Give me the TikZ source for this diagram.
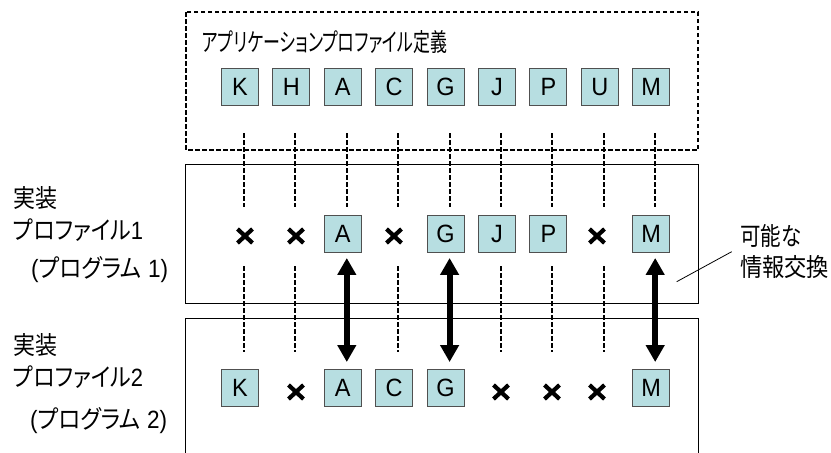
\documentclass[tikz,border=0pt]{standalone}
\usepackage{graphicx}
\usepackage{fontspec}
\setmainfont{Liberation Sans}
\newfontfamily\jp[RawFeature=+palt]{Noto Sans CJK JP}
\usetikzlibrary{arrows.meta}
\definecolor{boxfill}{RGB}{183,222,225}
\definecolor{boxline}{RGB}{80,80,80}
\newcommand{\fitw}[2]{\resizebox{#1}{\height}{#2}}
\newcommand{\narrow}[1]{\scalebox{0.94}[1]{#1}}
\tikzset{
  letter/.style={draw=boxline, fill=boxfill, line width=0.9pt, minimum width=37pt, minimum height=37pt, inner sep=0pt, font=\fontsize{25}{25}\selectfont},
  xmark/.style={minimum size=22pt, inner sep=0pt, path picture={
     \draw[line width=4.2pt] ([shift={(-7.5pt,-7pt)}]path picture bounding box.center) -- ([shift={(7.5pt,7pt)}]path picture bounding box.center);
     \draw[line width=4.2pt] ([shift={(-7.5pt,7pt)}]path picture bounding box.center) -- ([shift={(7.5pt,-7pt)}]path picture bounding box.center);}},
  guide/.style={line width=1.9pt, dash pattern=on 4.5pt off 2.5pt},
  frame/.style={line width=1pt},
  dframe/.style={line width=1.6pt, dash pattern=on 4.5pt off 2.5pt},
  lab/.style={anchor=west, inner sep=0pt, font=\fontsize{25}{25}\selectfont},
  xchg/.style={line width=6pt, {Triangle[width=18pt,length=17pt]}-{Triangle[width=18pt,length=17pt]}}
}
\begin{document}
\begin{tikzpicture}[x=1pt,y=-1pt]
\useasboundingbox (0,0) rectangle (831,453);
% frames
\draw[dframe] (186,12) rectangle (698,150);
\draw[frame] (185,164) rectangle (698,303);
\draw[frame] (185,453) -- (185,318) -- (698,318) -- (698,453);
% title
\node[lab] (title) at (202,42) {\fitw{245pt}{\jp アプリケーションプロファイル定義}};
% top row
\foreach \n [count=\i from 0] in {K,H,A,C,G,J,P,U,M} {
  \node[letter] (t\n) at (240+51.4*\i,87) {\narrow{\n}};
  \coordinate (ga\n) at (244+51.4*\i,133);
  \coordinate (gb\n) at (244+51.4*\i,207);
  \draw[guide] (ga\n) -- (gb\n);
}
\foreach \n/\i in {K/0,H/1,C/3,J/5,P/6,U/7} {
  \coordinate (gc\n) at (244+51.4*\i,266);
  \coordinate (gd\n) at (244+51.4*\i,352);
  \draw[guide] (gc\n) -- (gd\n);
}
% row 1
\node[xmark] (xa1) at (245,236) {};
\node[xmark] (xa2) at (296,236) {};
\node[letter] (aA) at (342.8,234) {\narrow{A}};
\node[xmark] (xa3) at (394,236) {};
\node[letter] (aG) at (445.6,234) {\narrow{G}};
\node[letter] (aJ) at (497,234) {\narrow{J}};
\node[letter] (aP) at (548.4,234) {\narrow{P}};
\node[xmark] (xa4) at (597,236) {};
\node[letter] (aM) at (651.2,234) {\narrow{M}};
% row 2
\node[letter] (bK) at (240,388) {\narrow{K}};
\node[xmark] (xb1) at (296,392) {};
\node[letter] (bA) at (342.8,388) {\narrow{A}};
\node[letter] (bC) at (394.2,388) {\narrow{C}};
\node[letter] (bG) at (445.6,388) {\narrow{G}};
\node[xmark] (xb2) at (501,392) {};
\node[xmark] (xb3) at (552,392) {};
\node[xmark] (xb4) at (597,392) {};
\node[letter] (bM) at (651.2,388) {\narrow{M}};
% exchange arrows
\foreach \n in {A,G,M}
  \draw[xchg, shorten <=5pt, shorten >=7pt] ([xshift=4pt]a\n.south) -- ([xshift=4pt]b\n.north);
% left labels
\node[lab] (l1a) at (13,198) {\fitw{44pt}{\jp 実装}};
\node[lab] (l1b) at (13,230) {\fitw{130pt}{{\jp プロファイル}1}};
\node[lab] (l1c) at (31,270) {\fitw{137pt}{({\jp プログラム} 1)}};
\node[lab] (l2a) at (13,345) {\fitw{44pt}{\jp 実装}};
\node[lab] (l2b) at (13,377) {\fitw{130pt}{{\jp プロファイル}2}};
\node[lab] (l2c) at (30,421) {\fitw{137pt}{({\jp プログラム} 2)}};
% right labels
\node[lab] (r1) at (740,236) {\fitw{61pt}{\jp 可能な}};
\node[lab] (r2) at (740,267) {\fitw{89pt}{\jp 情報交換}};
\coordinate (lead1) at (676.7,281.7);
\coordinate (lead2) at (731.7,251.7);
\draw[line width=0.8pt] (lead1) -- (lead2);
\end{tikzpicture}
\end{document}
